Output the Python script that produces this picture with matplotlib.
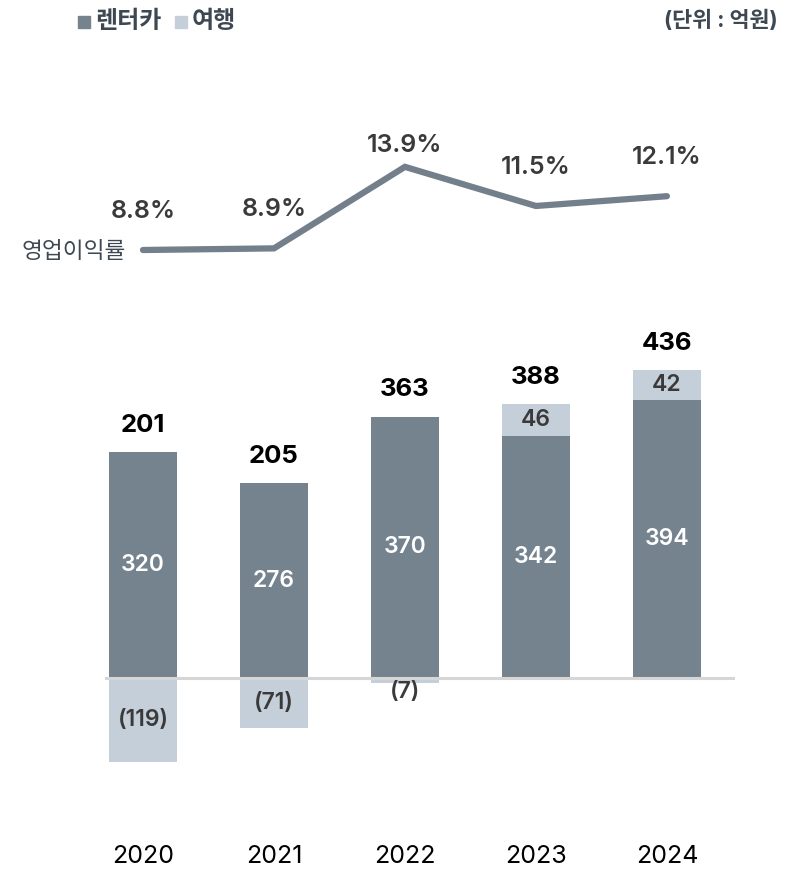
import numpy as np
import matplotlib.pyplot as plt

plt.rcParams['font.family'] = ['Inter', 'Noto Sans CJK KR', 'DejaVu Sans']

# --- 데이터 ---
years = ['2020', '2021', '2022', '2023', '2024']
rent = [320, 276, 370, 342, 394]      # 렌터카
travel = [-119, -71, -7, 46, 42]      # 여행
total = [201, 205, 363, 388, 436]
margin = [8.8, 8.9, 13.9, 11.5, 12.1]  # 영업이익률 (%)

c_dark = '#75838f'
c_light = '#c5cfd9'
c_text = '#3d4853'
c_num = '#3a3a3a'

fig = plt.figure(figsize=(7.93, 8.72), dpi=100)

# --- 막대 ---
ax = fig.add_axes([105 / 793, 72 / 872, 630 / 793, 500 / 872])
x = np.arange(len(years))
w = 0.52
ax.bar(x, rent, width=w, color=c_dark, zorder=2)
trav_bottom = [0 if t < 0 else r for r, t in zip(rent, travel)]
ax.bar(x, travel, width=w, bottom=trav_bottom, color=c_light, zorder=2)
ax.axhline(0, color='#d6d6d6', lw=2.2, zorder=3)
ax.set_xlim(-0.29, 4.52)
ax.set_ylim(-172.6, 535)
ax.axis('off')

for i in range(len(years)):
    ax.text(x[i], rent[i] / 2, str(rent[i]), ha='center', va='center',
            color='white', fontsize=16.5, fontweight='semibold')
    t = travel[i]
    if t < 0:
        lab = '(%d)' % (-t)
        ypos = t / 2 if t < -20 else -20
        ax.text(x[i], ypos, lab, ha='center', va='center',
                color=c_num, fontsize=16.5, fontweight='semibold')
    else:
        ax.text(x[i], rent[i] + t / 2, str(t), ha='center', va='center',
                color=c_num, fontsize=16.5, fontweight='semibold')
    top = rent[i] + max(t, 0)
    ax.text(x[i], top + 38, str(total[i]), ha='center', va='center',
            color='black', fontsize=18.5, fontweight='bold')
    ax.text(x[i], -252, years[i], ha='center', va='center',
            color='black', fontsize=18, clip_on=False)

# --- 영업이익률 선 ---
ax2 = fig.add_axes([105 / 793, (872 - 280) / 872, 630 / 793, 150 / 872])
ax2.plot(x, margin, color='#737f8b', lw=4.5, solid_capstyle='round',
         solid_joinstyle='miter')
ax2.set_xlim(-0.29, 4.52)
ax2.set_ylim(6.96, 16.16)
ax2.axis('off')
for i, m in enumerate(margin):
    off = 21 if m == max(margin) else 38.5
    ax2.annotate('%.1f%%' % m, (x[i], m), xytext=(0, off * 0.72),
                 textcoords='offset points', ha='center', va='center',
                 color=c_num, fontsize=18, fontweight='semibold')
fig.text(22 / 793, 1 - 252 / 872, '영업이익률', ha='left', va='center',
         color=c_text, fontsize=16.3)

# --- 범례 / 단위 ---
fig.patches.append(plt.Rectangle((78 / 793, 1 - 28 / 872), 12 / 793, 12 / 872,
                                 color=c_dark, transform=fig.transFigure))
fig.text(95 / 793, 1 - 22 / 872, '렌터카', color=c_text, fontsize=17.3,
         fontweight='bold', va='center')
fig.patches.append(plt.Rectangle((175 / 793, 1 - 28 / 872), 12 / 793, 12 / 872,
                                 color=c_light, transform=fig.transFigure))
fig.text(192 / 793, 1 - 22 / 872, '여행', color=c_text, fontsize=17.3,
         fontweight='bold', va='center')
fig.text(778 / 793, 1 - 20 / 872, '(단위 : 억원)', color=c_text, fontsize=15.7,
         fontweight='bold', ha='right', va='center')

fig.savefig('out.png', dpi=100)
